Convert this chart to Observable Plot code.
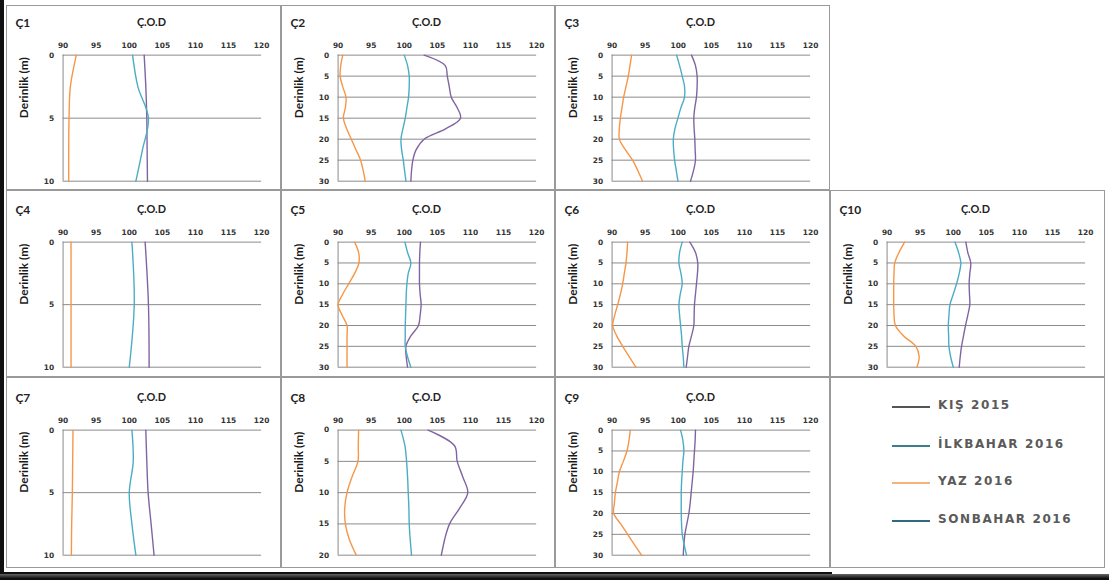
<!DOCTYPE html>
<html>
<head>
<meta charset="utf-8">
<script src="https://cdn.jsdelivr.net/npm/d3@7"></script>
<script src="https://cdn.jsdelivr.net/npm/@observablehq/plot@0.6"></script>
<style>
  html, body { margin: 0; padding: 0; background: #fff; }
  #root { position: relative; width: 1109px; height: 580px; overflow: hidden; background: #fff; }
  .box { position: absolute; border: 1px solid #9a9a9a; box-sizing: border-box; background: #fff; }
  .box svg { position: absolute; left: -1px; top: -1px; overflow: visible; }
  .leg { position: absolute; font-family: "DejaVu Sans", sans-serif; font-weight: bold; font-size: 12px; color: #5a5a5a; letter-spacing: 1.6px; }
  .legline { position: absolute; height: 2px; width: 38px; }
</style>
</head>
<body>
<div id="root"></div>
<script>
// ---- Data ----
const seriesNames = ["KIŞ 2015", "İLKBAHAR 2016", "YAZ 2016"];
const lineColors = ["#8064a2", "#4bacc6", "#f79646"];
const legendNames = ["KIŞ 2015", "İLKBAHAR 2016", "YAZ 2016", "SONBAHAR 2016"];
const legendColors = ["#555555", "#3b7f8c", "#f5b27a", "#2f6a80"];
const xTicks = [90, 95, 100, 105, 110, 115, 120];

const depth10 = [0, 2.5, 5, 7.5, 10];
const depth10b = [0, 5, 10];
const depth20 = [0, 2.5, 5, 7.5, 10, 12.5, 15, 17.5, 20];
const depth30 = [0, 2.5, 5, 7.5, 10, 12.5, 15, 17.5, 20, 22.5, 25, 27.5, 30];

const c1Kis = [102.25, 102.5, 102.65, 102.7, 102.75];
const c1Ilk = [100.5, 101.3, 102.9, 102.0, 101.0];
const c1Yaz = [92.0, 91.1, 90.9, 90.85, 90.85];

const c2Kis = [103, 106.2, 106.5, 106.8, 107.1, 108, 108.5, 106.3, 103, 101.8, 101.3, 101.1, 101];
const c2Ilk = [100, 100.5, 100.75, 100.75, 100.65, 100.4, 100.15, 99.8, 99.5, 99.6, 99.85, 100.05, 100.25];
const c2Yaz = [90.7, 90.4, 90.3, 90.7, 91.2, 91.1, 90.8, 91.3, 92.0, 92.7, 93.4, 93.8, 94.1];

const c3Kis = [102, 102.6, 102.85, 102.85, 102.75, 102.5, 102.35, 102.4, 102.5, 102.55, 102.6, 102.3, 101.85];
const c3Ilk = [99.75, 100.2, 100.6, 100.95, 100.95, 100.4, 99.95, 99.5, 99.25, 99.3, 99.45, 99.7, 99.95];
const c3Yaz = [92.95, 92.7, 92.45, 92.1, 91.75, 91.5, 91.25, 91.1, 91.1, 92.0, 93.1, 93.9, 94.6];

const c4Kis = [102.4, 102.9, 103];
const c4Ilk = [100.4, 100.75, 100];
const c4Yaz = [91.2, 91.2, 91.2];

const c5Kis = [102.45, 102.35, 102.3, 102.3, 102.3, 102.4, 102.55, 102.4, 102.15, 101, 100.25, 100.3, 100.5];
const c5Ilk = [100.1, 100.5, 101, 100.6, 100.4, 100.3, 100.25, 100.2, 100.15, 100.15, 100.15, 100.5, 101];
const c5Yaz = [92.5, 93.1, 93.15, 92.5, 91.6, 90.7, 90, 90.6, 91.35, 91.35, 91.35, 91.35, 91.35];

const c6Kis = [101.75, 102.6, 102.95, 102.9, 102.75, 102.6, 102.45, 102.4, 102.35, 102.0, 101.6, 101.4, 101.2];
const c6Ilk = [100.6, 100.2, 100.1, 100.4, 100.6, 100.3, 100.1, 100.2, 100.35, 100.5, 100.6, 100.75, 100.85];
const c6Yaz = [92.35, 92.25, 92.1, 91.85, 91.6, 91.25, 90.85, 90.4, 90.1, 90.7, 91.6, 92.6, 93.6];

const c7Kis = [102.5, 102.65, 102.85, 103.3, 103.75];
const c7Ilk = [100.4, 100.6, 100.0, 100.4, 101.0];
const c7Yaz = [91.5, 91.45, 91.4, 91.3, 91.25];

const c8Kis = [103.6, 107.6, 108, 108.85, 109.6, 108.35, 106.85, 106.1, 105.6];
const c8Ilk = [99.5, 100.1, 100.35, 100.5, 100.6, 100.7, 100.75, 100.9, 101.1];
const c8Yaz = [93.1, 93.05, 93, 92.1, 91.35, 91, 91.1, 91.7, 92.75];

const c9Kis = [102.6, 102.55, 102.45, 102.35, 102.25, 102.1, 101.95, 101.8, 101.6, 101.3, 101, 100.85, 100.75];
const c9Ilk = [100.35, 100.7, 100.85, 100.7, 100.6, 100.5, 100.45, 100.45, 100.45, 100.5, 100.6, 100.9, 101.25];
const c9Yaz = [92.75, 92.55, 92.25, 91.7, 91.1, 90.8, 90.5, 90.35, 90.25, 91.3, 92.35, 93.4, 94.45];

const c10Kis = [101.9, 102.2, 102.65, 102.5, 102.4, 102.45, 102.5, 102.2, 101.85, 101.55, 101.25, 101.05, 100.9];
const c10Ilk = [100.25, 100.8, 101.15, 100.9, 100.5, 100.0, 99.5, 99.35, 99.25, 99.3, 99.35, 99.6, 100];
const c10Yaz = [92.65, 91.8, 91.15, 91.05, 91, 91, 91, 91.05, 91.25, 92.5, 94.35, 94.85, 94.5];

// ---- Layout ----
const colLeft = [6, 281, 555, 830];
const colWidth = [275, 274, 275, 275];
const rowTop = [5, 190, 377];
const rowHeight = [185, 187, 191];
const rowFrameTop = [50, 52, 53];
const rowFrameBottom = [177, 178, 179];

const panels = [
  {name: "Ç1", depth: depth10, vals: [c1Kis, c1Ilk, c1Yaz], max: 10, row: 0, col: 0},
  {name: "Ç2", depth: depth30, vals: [c2Kis, c2Ilk, c2Yaz], max: 30, row: 0, col: 1},
  {name: "Ç3", depth: depth30, vals: [c3Kis, c3Ilk, c3Yaz], max: 30, row: 0, col: 2},
  {name: "Ç4", depth: depth10b, vals: [c4Kis, c4Ilk, c4Yaz], max: 10, row: 1, col: 0},
  {name: "Ç5", depth: depth30, vals: [c5Kis, c5Ilk, c5Yaz], max: 30, row: 1, col: 1},
  {name: "Ç6", depth: depth30, vals: [c6Kis, c6Ilk, c6Yaz], max: 30, row: 1, col: 2},
  {name: "Ç10", depth: depth30, vals: [c10Kis, c10Ilk, c10Yaz], max: 30, row: 1, col: 3},
  {name: "Ç7", depth: depth10, vals: [c7Kis, c7Ilk, c7Yaz], max: 10, row: 2, col: 0},
  {name: "Ç8", depth: depth20, vals: [c8Kis, c8Ilk, c8Yaz], max: 20, row: 2, col: 1},
  {name: "Ç9", depth: depth30, vals: [c9Kis, c9Ilk, c9Yaz], max: 30, row: 2, col: 2}
];

const root = document.getElementById("root");

function addDiv(style, cls) {
  const d = document.createElement("div");
  if (cls) d.className = cls;
  Object.assign(d.style, style);
  root.appendChild(d);
  return d;
}

for (const p of panels) {
  const W = colWidth[p.col], H = rowHeight[p.row];
  const box = addDiv({left: colLeft[p.col] + "px", top: rowTop[p.row] + "px", width: W + "px", height: H + "px"}, "box");
  const data = [];
  p.depth.forEach((d, i) => {
    seriesNames.forEach((s, k) => data.push({s, d, v: p.vals[k][i]}));
  });
  const yTicks = d3.range(0, p.max + 1, 5);
  const ft = rowFrameTop[p.row], fb = rowFrameBottom[p.row];
  const chart = Plot.plot({
    width: W, height: H,
    marginLeft: 57, marginRight: W - 257, marginTop: ft, marginBottom: H - fb,
    x: {domain: [90, 120], ticks: xTicks, axis: "top", label: null, tickSize: 0, tickPadding: 7},
    y: {domain: [0, p.max], reverse: true, ticks: yTicks, label: null, tickSize: 0, tickPadding: 9},
    color: {domain: seriesNames, range: lineColors},
    style: {fontFamily: "DejaVu Sans, sans-serif", fontSize: "7.5px", fontWeight: "bold", color: "#333", background: "transparent", overflow: "visible"},
    marks: [
      Plot.gridY(yTicks, {stroke: "#8a8a8a", strokeOpacity: 1, strokeWidth: 1}),
      Plot.ruleX([90], {stroke: "#8a8a8a", strokeWidth: 1}),
      Plot.line(data, {x: "v", y: "d", z: "s", stroke: "s", curve: "catmull-rom", strokeWidth: 1.4}),
      Plot.text([p.name], {frameAnchor: "top-left", textAnchor: "start", dx: -48, dy: -37, fontFamily: "Lato, sans-serif", fontWeight: "bold", fontSize: 12, fill: "#222"}),
      Plot.text(["Ç.O.D"], {frameAnchor: "top", dx: -11, dy: -37, fontFamily: "Lato, sans-serif", fontWeight: "bold", fontSize: 11, fill: "#222", letterSpacing: "1px"}),
      Plot.text(["Derinlik (m)"], {frameAnchor: "left", rotate: -90, dx: -39, fontFamily: "Lato, sans-serif", fontWeight: "bold", fontSize: 12, fill: "#1a1a1a"})
    ]
  });
  box.appendChild(chart);
}

// Legend box
addDiv({left: "830px", top: "377px", width: "275px", height: "191px"}, "box");
const legY = [407, 446, 483, 521];
legendNames.forEach((n, i) => {
  addDiv({left: "892px", top: (legY[i] - 1) + "px", background: legendColors[i]}, "legline");
  const t = addDiv({left: "938px", top: (legY[i] - 9) + "px"}, "leg");
  t.textContent = n;
});

// outer frame / shadow
addDiv({left: "0px", top: "0px", width: "4px", height: "572px", background: "#111"});
addDiv({left: "0px", top: "0px", width: "832px", height: "2px", background: "#111"});
addDiv({left: "0px", top: "569px", width: "1109px", height: "11px", background: "linear-gradient(#666, #111 40%, #000)"});
</script>
</body>
</html>
